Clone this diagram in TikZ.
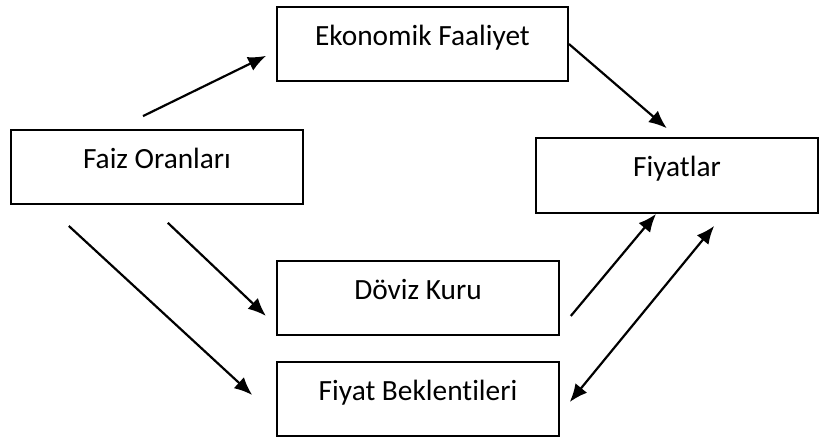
\documentclass[tikz,border=0pt]{standalone}
\usepackage{fontspec}
\setmainfont[Ligatures=NoCommon]{Carlito}
\usetikzlibrary{arrows.meta}
\tikzstyle{kutu}=[rectangle, draw, line width=1.1pt, inner sep=0pt, minimum width=5.64cm, minimum height=1.48cm, font=\fontsize{16.7}{20}\selectfont, text height=0.7em, text depth=0.55em]
\providecommand{\kutu}{\node[kutu]}

\begin{document}
\begin{tikzpicture}[x=0.02cm, y=-0.02cm,
    >={Latex[length=0.36cm,width=0.3cm]},
    every edge/.style={draw, line width=1.25pt, ->}
]
\useasboundingbox (0,0) rectangle (819,437);
\kutu (eko) at (422.5,44) [minimum width=5.82cm] {Ekonomik Faaliyet};
\kutu (faiz) at (157,167) [minimum width=5.84cm] {Faiz Oranları};
\kutu (fiyat) at (677,175.5) [minimum height=1.5cm] {Fiyatlar};
\kutu (doviz) at (418,298) {Döviz Kuru};
\kutu (bekl) at (418,399) {Fiyat Beklentileri};
\path
([xshift=-0.81cm]faiz.north) edge [shorten <=0.59cm, shorten >=0.22cm] ([yshift=-0.14cm]eko.west)
(eko.east) edge [shorten >=0.27cm] (fiyat.north)
([xshift=-0.16cm]faiz.south) edge [shorten <=0.52cm, shorten >=0.28cm] ([yshift=-0.55cm]doviz.west)
([xshift=-2.22cm]faiz.south) edge [shorten <=0.62cm, shorten >=0.65cm] ([yshift=-0.36cm]bekl.west)
([yshift=-0.62cm]doviz.east) edge [shorten <=0.34cm] ([xshift=-0.42cm]fiyat.south)
([yshift=-0.3cm]bekl.east) edge [<->, shorten <=0.31cm, shorten >=0.31cm] ([xshift=0.94cm]fiyat.south)
;
\end{tikzpicture}
\end{document}
